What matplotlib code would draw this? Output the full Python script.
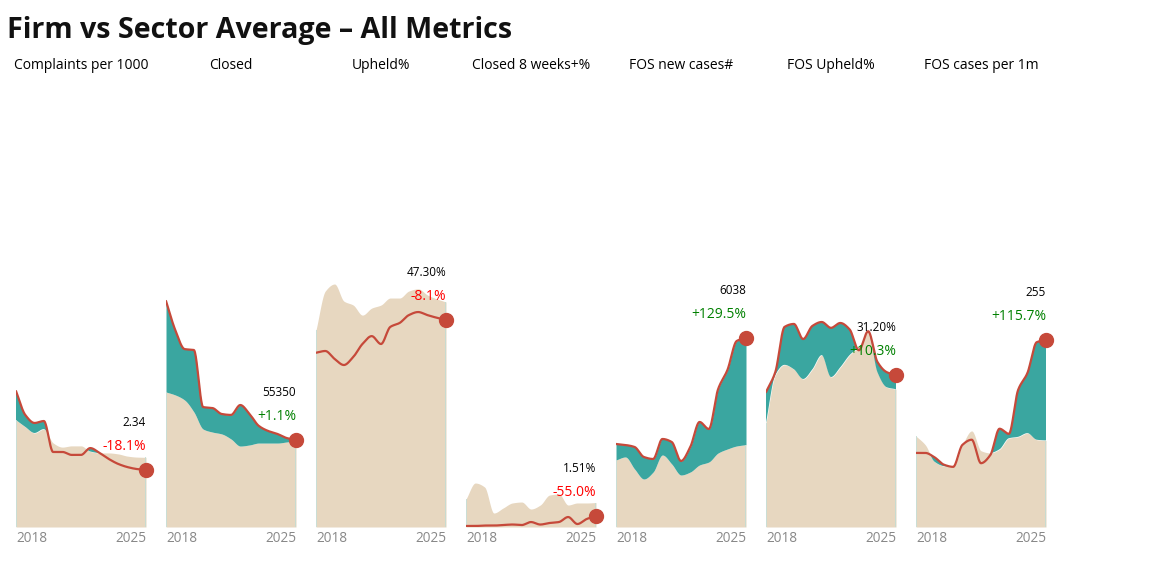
import numpy as np
import matplotlib
matplotlib.use("Agg")
import matplotlib.pyplot as plt

plt.rcParams['font.family'] = ['Open Sans', 'DejaVu Sans']

# half-year points, 2018 H1 .. 2025 H1
periods = np.arange(2018, 2025.01, 0.5)

metrics = ['Complaints per 1000', 'Closed', 'Upheld%', 'Closed 8 weeks+%',
           'FOS new cases#', 'FOS Upheld%', 'FOS cases per 1m']

firm_complaints = [5.58, 4.60, 4.27, 4.35, 3.08, 3.08, 2.96, 2.96, 3.24, 3.04, 2.79, 2.59, 2.46, 2.38, 2.34]
sector_complaints = [4.39, 4.11, 3.86, 4.02, 3.45, 3.28, 3.33, 3.33, 3.10, 3.04, 3.04, 3.00, 2.91, 2.87, 2.86]

firm_closed = [143800, 125300, 113200, 112600, 76300, 75700, 71900, 71300, 77600, 71900, 64300, 61100, 59200, 56600, 55350]
sector_closed = [85900, 84000, 80800, 73200, 62300, 60400, 59200, 56000, 51500, 52200, 53400, 53400, 53400, 54100, 54750]

firm_upheld = [39.8, 40.2, 38.4, 37.0, 38.8, 41.8, 43.6, 41.8, 45.7, 46.6, 48.4, 49.1, 48.4, 47.8, 47.3]
sector_upheld = [45.0, 53.9, 55.5, 51.6, 50.7, 48.4, 50.0, 50.7, 52.3, 52.3, 53.9, 54.4, 53.0, 52.1, 51.4]

firm_8weeks = [0.14, 0.14, 0.20, 0.20, 0.27, 0.34, 0.27, 0.68, 0.34, 0.55, 0.68, 1.37, 0.41, 1.10, 1.51]
sector_8weeks = [3.84, 6.04, 5.49, 1.92, 2.61, 3.30, 3.43, 2.47, 3.02, 4.39, 4.53, 3.02, 3.30, 3.30, 3.36]

firm_fos_new = [2652, 2620, 2556, 2237, 2173, 2812, 2716, 2109, 2556, 3355, 3131, 4409, 5016, 5943, 6038]
sector_fos_new = [2141, 2237, 1853, 1534, 1757, 2300, 2013, 1661, 1757, 1981, 2077, 2364, 2492, 2588, 2631]

firm_fos_upheld = [27.7, 31.8, 41.1, 41.7, 38.6, 41.3, 42.1, 40.9, 41.9, 40.6, 36.3, 40.2, 33.9, 31.8, 31.2]
sector_fos_upheld = [21.4, 31.2, 33.3, 32.4, 30.4, 32.4, 35.3, 30.8, 32.8, 35.3, 37.0, 40.0, 31.8, 28.7, 28.3]

firm_fos_1m = [101, 101, 95, 85, 82, 112, 119, 87, 98, 134, 127, 187, 210, 252, 255]
sector_fos_1m = [124, 112, 89, 83, 82, 112, 131, 104, 101, 106, 121, 123, 128, 119, 118]

firm_series = [firm_complaints, firm_closed, firm_upheld, firm_8weeks,
               firm_fos_new, firm_fos_upheld, firm_fos_1m]
sector_series = [sector_complaints, sector_closed, sector_upheld, sector_8weeks,
                 sector_fos_new, sector_fos_upheld, sector_fos_1m]

last_labels = ['2.34', '55350', '47.30%', '1.51%', '6038', '31.20%', '255']
change_pct = [-18.1, 1.1, -8.1, -55.0, 129.5, 10.3, 115.7]
y_top = [18.35, 284400, 102.1, 61.4, 14280, 91.8, 609.5]

BEIGE = '#e7d7c0'
TEAL = '#3aa6a0'
RED = '#c6493a'
EDGE = '#c2dcd4'


def smooth(x, y, n=24):
    # monotone cubic curve, like d3.curveMonotoneX
    x = np.asarray(x, float)
    y = np.asarray(y, float)
    h = np.diff(x)
    d = np.diff(y) / h
    m = np.zeros_like(y)
    m[0], m[-1] = d[0], d[-1]
    for k in range(1, len(y) - 1):
        if d[k - 1] * d[k] <= 0:
            m[k] = 0
        else:
            m[k] = 3 * (h[k - 1] + h[k]) / ((2 * h[k] + h[k - 1]) / d[k - 1] + (h[k] + 2 * h[k - 1]) / d[k])
    xs, ys = [], []
    t = np.linspace(0, 1, n, endpoint=False)
    for k in range(len(h)):
        h00 = 2 * t**3 - 3 * t**2 + 1
        h10 = t**3 - 2 * t**2 + t
        h01 = -2 * t**3 + 3 * t**2
        h11 = t**3 - t**2
        xs.append(x[k] + t * h[k])
        ys.append(h00 * y[k] + h10 * h[k] * m[k] + h01 * y[k + 1] + h11 * h[k] * m[k + 1])
    xs.append([x[-1]])
    ys.append([y[-1]])
    return np.concatenate(xs), np.concatenate(ys)


fig = plt.figure(figsize=(11.5, 5.78), dpi=100)
W, H = 1150, 578

fig.text(7 / W, 1 - 38 / H, 'Firm vs Sector Average \u2013 All Metrics',
         fontsize=20.6, fontweight='bold', va='baseline', color='#111111')

for i in range(7):
    left = 16 + 150 * i
    ax = fig.add_axes([left / W, 51 / H, 130 / W, 447 / H])
    xs, fs = smooth(periods, firm_series[i])
    _, ss = smooth(periods, sector_series[i])

    ax.fill_between(xs, 0, ss, color=BEIGE, lw=0)
    ax.fill_between(xs, ss, fs, where=fs > ss, interpolate=True, color=TEAL, lw=0)
    # faint edges of the area at both ends
    ax.vlines([periods[0], periods[-1]], 0,
              [sector_series[i][0], sector_series[i][-1]], color=EDGE, lw=1.2)
    ax.plot(xs, fs, color=RED, lw=1.6, solid_capstyle='round')
    ax.plot(periods[-1], firm_series[i][-1], 'o', color=RED, ms=10, clip_on=False, zorder=5)

    ax.annotate(last_labels[i], (periods[-1], firm_series[i][-1]),
                xytext=(0, 34), textcoords='offset points', ha='right', va='center',
                fontsize=8.5, color='black', annotation_clip=False)
    c = change_pct[i]
    ax.annotate(f'{c:+.1f}%', (periods[-1], firm_series[i][-1]),
                xytext=(0, 17), textcoords='offset points', ha='right', va='center',
                fontsize=10, color='#ff0000' if c < 0 else '#008000', annotation_clip=False)

    ax.set_xlim(periods[0], periods[-1])
    ax.set_ylim(0, y_top[i])
    ax.set_title(metrics[i], fontsize=10, pad=8)
    ax.set_yticks([])
    ax.set_xticks([periods[0], periods[-1]])
    ax.set_xticklabels(['2018', '2025'], fontsize=9.8, color='#888888')
    labels = ax.get_xticklabels()
    labels[0].set_ha('left')
    labels[1].set_ha('right')
    ax.tick_params(axis='x', length=0, pad=3)
    for s in ax.spines.values():
        s.set_visible(False)
    ax.patch.set_alpha(0)

fig.savefig('out.png', dpi=100)
